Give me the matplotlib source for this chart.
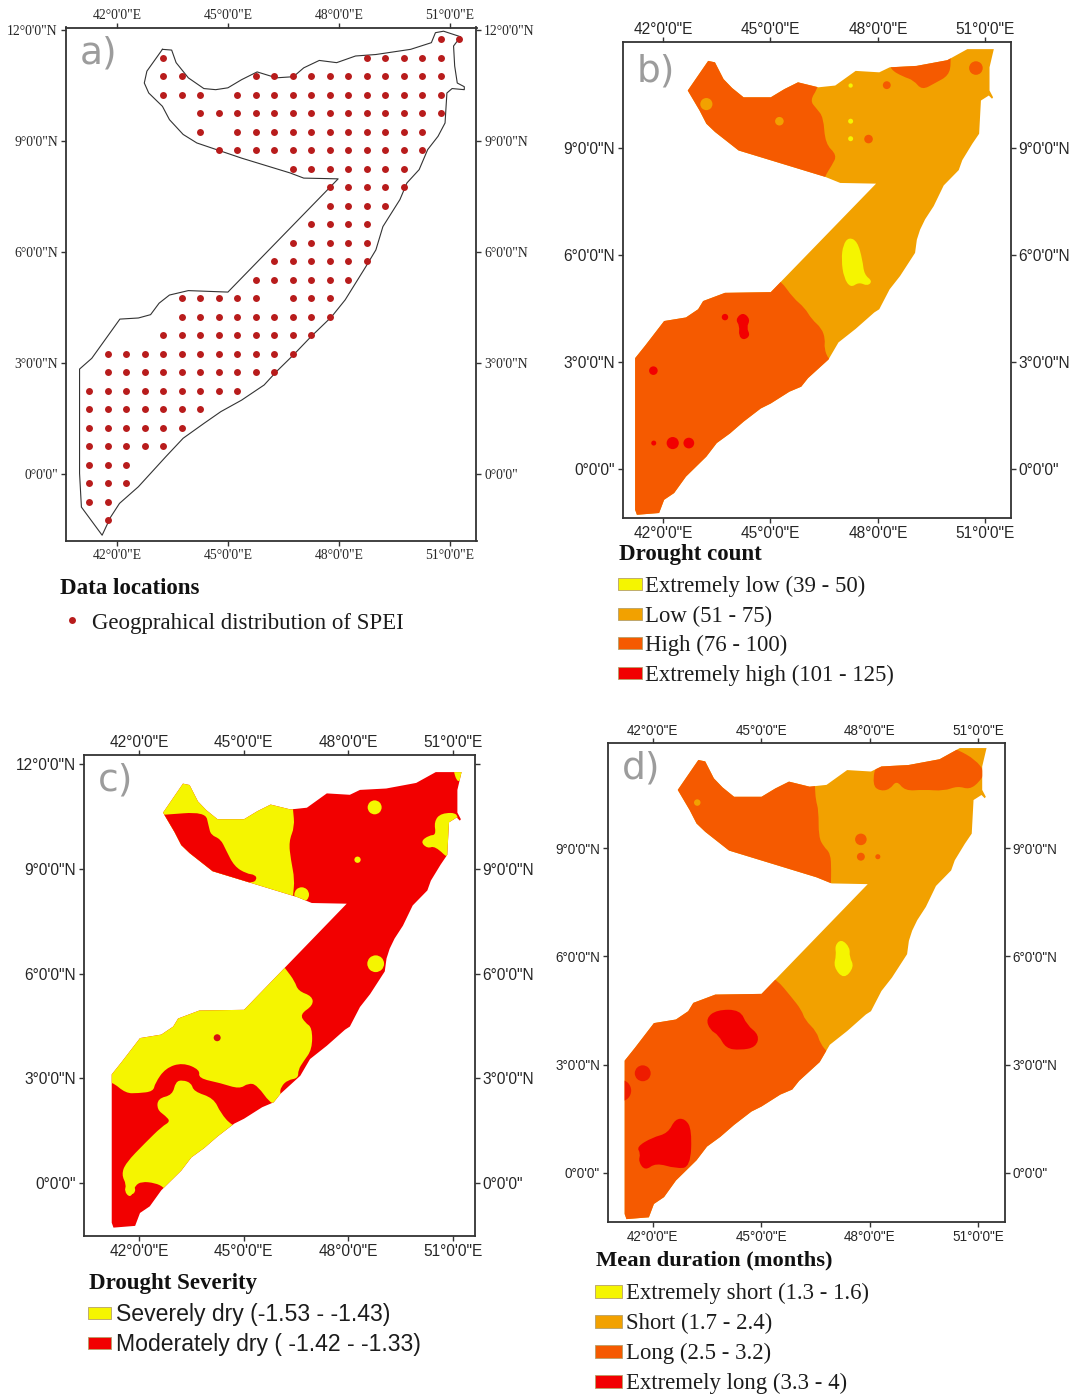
import matplotlib
matplotlib.use("Agg")
import matplotlib.pyplot as plt
from matplotlib.patches import Polygon, PathPatch, Circle, Rectangle
from matplotlib.path import Path
from matplotlib.lines import Line2D
from matplotlib.transforms import ScaledTranslation
import numpy as np

W, H = 1073, 1397
SERIF = "Liberation Serif"
SANS = "Liberation Sans"

YELLOW = "#f5f500"
ORANGE = "#f2a100"
DEEP = "#f55a00"
RED = "#f20000"
DOT = "#b81c1c"

LON_TICKS = [42, 45, 48, 51]
LON_LABELS = ["42°0'0\"E", "45°0'0\"E", "48°0'0\"E", "51°0'0\"E"]
LAT_TICKS = [0, 3, 6, 9, 12]
LAT_LABELS = ["0°0'0\"", "3°0'0\"N", "6°0'0\"N", "9°0'0\"N", "12°0'0\"N"]

# boundary drawn in panel a (lon, lat)
COAST_LON = [43.23, 43.48, 43.60, 43.93, 44.35, 44.67, 45.0, 45.37, 45.79, 46.31, 46.77, 47.05, 47.47,
             47.94, 48.45, 49.0, 49.94, 50.5, 50.61, 50.83, 51.29, 51.1, 51.13, 51.2, 51.39, 51.39,
             51.06, 50.92, 50.87, 50.68, 50.4, 50.17, 49.84, 49.65, 49.19, 49.0, 48.73, 48.17, 47.8,
             47.24, 46.77, 46.31, 45.98, 45.37, 44.81, 44.35, 43.79, 43.32, 42.58, 42.07, 41.83, 41.6,
             41.04, 40.99, 40.99, 41.32, 42.08, 42.58, 42.91, 43.14, 43.42, 43.93, 45.0, 47.98, 47.05,
             46.68, 45.37, 44.16, 43.79, 43.42, 43.23, 42.86, 42.74, 42.81]
COAST_LAT = [11.48, 11.46, 11.12, 10.71, 10.42, 10.39, 10.44, 10.66, 10.87, 10.71, 10.74, 10.98, 11.18,
             11.12, 11.30, 11.34, 11.48, 11.66, 11.93, 11.97, 11.82, 11.57, 11.03, 10.57, 10.47, 10.39,
             10.42, 10.30, 9.49, 9.13, 8.77, 8.23, 7.87, 7.42, 6.69, 6.06, 5.61, 4.71, 4.25,
             3.71, 3.22, 2.77, 2.41, 2.0, 1.69, 1.37, 0.97, 0.47, -0.34, -0.79, -1.16, -1.65,
             -0.89, 0.02, 2.84, 3.13, 4.19, 4.22, 4.31, 4.62, 4.84, 4.96, 4.92, 7.98, 8.0,
             8.14, 8.54, 8.95, 9.18, 9.58, 9.94, 10.30, 10.57, 10.89]

# grid points of panel a, one list of longitudes per latitude row
ROW_LAT = [11.75, 11.25, 10.75, 10.25, 9.75, 9.25, 8.75, 8.25, 7.75, 7.25, 6.75, 6.25, 5.75, 5.25,
           4.75, 4.25, 3.75, 3.25, 2.75, 2.25, 1.75, 1.25, 0.75, 0.25, -0.25, -0.75, -1.25]
ROW_LON = [
    [50.75, 51.25],
    [43.25, 48.75, 49.25, 49.75, 50.25, 50.75],
    [43.25, 43.75, 45.75, 46.25, 46.75, 47.25, 47.75, 48.25, 48.75, 49.25, 49.75, 50.25, 50.75],
    [43.25, 43.75, 44.25, 45.25, 45.75, 46.25, 46.75, 47.25, 47.75, 48.25, 48.75, 49.25, 49.75, 50.25, 50.75],
    [44.25, 44.75, 45.25, 45.75, 46.25, 46.75, 47.25, 47.75, 48.25, 48.75, 49.25, 49.75, 50.25, 50.75],
    [44.25, 45.25, 45.75, 46.25, 46.75, 47.25, 47.75, 48.25, 48.75, 49.25, 49.75, 50.25],
    [44.75, 45.25, 45.75, 46.25, 46.75, 47.25, 47.75, 48.25, 48.75, 49.25, 49.75, 50.25],
    [46.75, 47.25, 47.75, 48.25, 48.75, 49.25, 49.75],
    [47.75, 48.25, 48.75, 49.25, 49.75],
    [47.75, 48.25, 48.75, 49.25],
    [47.25, 47.75, 48.25, 48.75],
    [46.75, 47.25, 47.75, 48.25, 48.75],
    [46.25, 46.75, 47.25, 47.75, 48.25, 48.75],
    [45.75, 46.25, 46.75, 47.25, 47.75, 48.25],
    [43.75, 44.25, 44.75, 45.25, 45.75, 46.75, 47.25, 47.75],
    [43.75, 44.25, 44.75, 45.25, 45.75, 46.25, 46.75, 47.25, 47.75],
    [43.25, 43.75, 44.25, 44.75, 45.25, 45.75, 46.25, 46.75, 47.25],
    [41.75, 42.25, 42.75, 43.25, 43.75, 44.25, 44.75, 45.25, 45.75, 46.25, 46.75],
    [41.75, 42.25, 42.75, 43.25, 43.75, 44.25, 44.75, 45.25, 45.75, 46.25],
    [41.25, 41.75, 42.25, 42.75, 43.25, 43.75, 44.25, 44.75, 45.25],
    [41.25, 41.75, 42.25, 42.75, 43.25, 43.75, 44.25],
    [41.25, 41.75, 42.25, 42.75, 43.25, 43.75],
    [41.25, 41.75, 42.25, 42.75, 43.25],
    [41.25, 41.75, 42.25],
    [41.25, 41.75, 42.25],
    [41.25, 41.75],
    [41.75],
]

# raster extent used by panels b, c, d
LAND = [(43.26, 11.44), (43.45, 11.40), (43.69, 10.93), (43.93, 10.68), (44.25, 10.42), (45.01, 10.42),
        (45.39, 10.65), (45.77, 10.84), (46.34, 10.70), (46.81, 10.75), (47.38, 11.16), (48.04, 11.12),
        (48.33, 11.26), (49.08, 11.30), (49.94, 11.46), (50.50, 11.77), (51.24, 11.77), (51.12, 11.26),
        (51.12, 10.61), (51.22, 10.42), (51.19, 10.38), (51.1, 10.47), (50.88, 10.33), (50.83, 9.40),
        (50.64, 9.12), (50.36, 8.66), (50.26, 8.38), (49.84, 7.95), (49.56, 7.37), (49.32, 7.0),
        (49.18, 6.71), (49.09, 6.43), (49.04, 6.06), (48.62, 5.41), (48.33, 5.04), (48.04, 4.48),
        (47.9, 4.39), (47.38, 3.93), (46.9, 3.55), (46.62, 3.07), (46.05, 2.55), (45.86, 2.31),
        (45.53, 2.17), (45.01, 1.84), (44.73, 1.70), (44.25, 1.33), (43.87, 1.0), (43.5, 0.73),
        (43.21, 0.35), (42.64, -0.21), (42.31, -0.67), (42.03, -0.86), (41.89, -1.23), (41.27, -1.28),
        (41.22, -1.14), (41.22, 3.11), (41.5, 3.46), (42.03, 4.15), (42.64, 4.25), (42.98, 4.48),
        (43.12, 4.71), (43.73, 4.94), (45.01, 4.96), (47.95, 8.0), (46.95, 8.02), (46.53, 8.19),
        (44.11, 8.93), (43.45, 9.45), (43.21, 9.68), (43.02, 10.05), (42.69, 10.61)]

# panel b zones
B_NW = [(46.4, 11.3), (46.34, 10.70), (46.10, 10.33), (46.29, 10.10), (46.48, 9.86), (46.53, 9.12),
        (46.86, 8.80), (46.72, 8.52), (46.51, 8.19), (46.4, 7.8), (42, 7.8), (42, 12), (46.4, 12)]
B_SOUTH = [(45.30, 5.27), (45.63, 4.80), (45.96, 4.52), (46.15, 4.20), (46.43, 3.95), (46.53, 3.64),
           (46.5, 3.39), (46.62, 3.07), (46.9, 2.9), (46, 1), (42, -2), (40.5, -2), (40.5, 5), (44.9, 5.5)]
B_NORTH = [(48.3, 11.5), (48.35, 11.2), (48.7, 11.0), (49.0, 10.9), (49.23, 10.62), (49.6, 10.82),
           (49.98, 11.03), (50.05, 11.4), (50.0, 11.8), (48.8, 11.8)]
B_YELLOW = [(47.19, 6.50), (47.43, 6.38), (47.57, 5.87), (47.62, 5.45), (47.85, 5.27), (47.71, 5.13),
            (47.47, 5.24), (47.24, 5.08), (47.05, 5.36), (46.98, 5.87), (47.03, 6.29)]
B_RED = [(44.23, 4.40), (44.44, 4.20), (44.33, 3.97), (44.44, 3.74), (44.25, 3.61), (44.11, 3.74),
         (44.14, 4.01), (44.02, 4.20)]
B_SPOTS = [(43.21, 10.23, 0.17, ORANGE), (45.25, 9.75, 0.12, ORANGE), (47.24, 10.75, 0.06, YELLOW),
           (47.24, 9.75, 0.07, YELLOW), (47.24, 9.26, 0.07, YELLOW), (48.25, 10.76, 0.11, DEEP),
           (47.74, 9.25, 0.12, DEEP), (50.74, 11.24, 0.19, DEEP), (43.73, 4.26, 0.09, RED),
           (41.73, 2.76, 0.12, RED), (41.74, 0.73, 0.07, RED), (42.27, 0.73, 0.17, RED),
           (42.72, 0.73, 0.15, RED)]

# panel c zones
C_NW_YELLOW = [(42, 12), (46.3, 12), (46.41, 10.69), (46.46, 10.21), (46.29, 9.78), (46.35, 9.26),
               (46.46, 8.69), (46.41, 8.26), (46.4, 7.8), (42, 7.8)]
C_NW_RED = [(42.3, 10.54), (42.66, 10.54), (43.9, 10.64), (44.0, 10.21), (44.06, 9.97), (44.34, 9.85),
            (44.49, 9.54), (44.73, 9.07), (45.08, 8.86), (45.33, 8.83), (45.38, 8.69), (45.23, 8.59),
            (43.95, 8.5), (42.3, 9.3)]
C_NE_CAP = [(50.95, 12), (51.4, 12), (51.15, 11.35)]
C_EAST = [(50.65, 10.6), (51.2, 10.6), (51.0, 10.02), (50.95, 9.2), (50.48, 9.66), (50.26, 9.58),
          (50.06, 9.78), (50.31, 9.96), (50.51, 9.97), (50.45, 10.35)]
C_SOUTH = [(45.9, 6.5), (46.22, 6.11), (46.46, 5.78), (46.56, 5.50), (46.96, 5.35), (46.99, 5.09),
           (46.61, 4.83), (46.76, 4.59), (46.96, 4.45), (46.96, 3.83), (46.71, 3.48), (46.56, 3.24),
           (46.56, 3.0), (46.26, 2.95), (46.07, 2.76), (46.03, 2.55), (46.2, 2.3), (45.82, 2.2),
           (45.38, 2.81), (45.13, 2.86), (44.88, 2.69), (44.34, 2.86), (43.7, 3.0), (43.75, 3.24),
           (43.25, 3.45), (42.76, 3.29), (42.46, 2.86), (42.41, 2.62), (41.97, 2.57), (41.62, 2.57),
           (41.23, 2.90), (40.8, 2.95), (40.8, 5), (45, 5.5)]
C_TONGUE = [(43.25, 2.95), (43.5, 2.86), (43.57, 2.62), (44.14, 2.43), (44.34, 2.0), (44.66, 1.64),
            (45.1, 1.5), (44, 0.3), (42.9, -0.35), (42.71, -0.12), (42.46, 0.0), (42.07, 0.04),
            (41.89, -0.08), (41.85, -0.24), (41.74, -0.42), (41.58, -0.24), (41.64, -0.05), (41.5, 0.24),
            (41.62, 0.57), (42.17, 1.14), (42.66, 1.62), (42.9, 1.76), (42.76, 1.92), (42.52, 2.10),
            (42.54, 2.42), (42.96, 2.52), (43.05, 2.9)]
C_SPOTS = [(48.75, 10.76, 0.2, YELLOW), (48.26, 9.26, 0.09, YELLOW), (46.66, 8.26, 0.21, YELLOW),
           (48.78, 6.28, 0.24, YELLOW), (44.24, 4.16, 0.1, "#d81010"), (41.76, -0.2, 0.13, YELLOW)]

# panel d zones
D_NW = [(46.45, 11.5), (46.49, 10.68), (46.51, 10.33), (46.59, 10.05), (46.59, 9.31), (46.73, 9.04),
        (46.92, 8.85), (46.94, 8.39), (46.93, 8.02), (46.93, 7.8), (42, 7.8), (42, 12), (46.45, 12)]
D_SOUTH = [(45.43, 5.36), (45.83, 4.88), (46.12, 4.51), (46.21, 4.24), (46.54, 3.91), (46.63, 3.59),
           (46.87, 3.3), (47.1, 3.2), (46, 1), (42, -2), (40.5, -2), (40.5, 5), (45, 5.6)]
D_NORTH = [(48.18, 11.4), (49.5, 11.8), (50.1, 11.85), (50.45, 11.72), (50.93, 11.45), (51.2, 11.1),
           (51.05, 10.84), (50.77, 10.62), (50.44, 10.72), (50.06, 10.58), (49.5, 10.62), (48.98, 10.58),
           (48.75, 10.88), (48.56, 10.62), (48.28, 10.58), (48.08, 10.75)]
D_YELLOW = [(47.22, 6.48), (47.46, 6.24), (47.44, 5.99), (47.58, 5.71), (47.29, 5.36), (47.0, 5.71),
            (47.08, 6.04), (47.04, 6.3)]
D_RED_A = [(43.47, 4.28), (43.77, 4.52), (44.42, 4.52), (44.6, 4.10), (44.95, 3.82), (44.85, 3.48),
           (44.42, 3.4), (44.02, 3.45), (43.82, 3.82), (43.58, 3.96)]
D_RED_B = [(41.55, 0.72), (41.98, 0.98), (42.42, 1.1), (42.62, 1.5), (42.9, 1.5), (43.08, 1.19),
           (43.04, 0.16), (42.64, 0.12), (42.08, 0.28), (41.79, 0.06), (41.6, 0.31), (41.66, 0.54)]
D_SPOTS = [(43.23, 10.26, 0.09, ORANGE), (47.76, 9.24, 0.16, DEEP), (47.76, 8.76, 0.11, DEEP),
           (48.23, 8.76, 0.07, DEEP), (41.72, 2.76, 0.22, "#ee1c00"), (41.1, 2.28, 0.3, "#ee1c00")]

COUNT_LABELS = ["Extremely low (39 - 50)", "Low (51 - 75)", "High (76 - 100)", "Extremely high (101 - 125)"]
SEVERITY_LABELS = ["Severely dry (-1.53 - -1.43)", "Moderately dry ( -1.42 - -1.33)"]
DURATION_LABELS = ["Extremely short (1.3 - 1.6)", "Short (1.7 - 2.4)", "Long (2.5 - 3.2)", "Extremely long (3.3 - 4)"]
FOUR_COLORS = [YELLOW, ORANGE, DEEP, RED]
TWO_COLORS = [YELLOW, RED]


def fx(px):
    return px / W


def fy(px):
    return 1 - px / H


def make_axes(fig, box, xlim, ylim, font, size, lat_ticks, tag, tag_y):
    left, right, top, bottom = box
    ax = fig.add_axes([fx(left), fy(bottom), (right - left) / W, (bottom - top) / H])
    ax.set_xlim(*xlim)
    ax.set_ylim(*ylim)
    ax.set_xticks(LON_TICKS)
    ax.set_xticklabels(LON_LABELS, family=font, size=size, color="#262626")
    ax.set_yticks(lat_ticks)
    ax.set_yticklabels(LAT_LABELS[:len(lat_ticks)], family=font, size=size, color="#262626")
    ax.tick_params(top=True, labeltop=True, right=True, labelright=True, length=3.5, width=1,
                   color="#333333", pad=2)
    # top labels sit closer to the frame than the bottom ones
    shift = ScaledTranslation(0, -2.5 / 100, fig.dpi_scale_trans)
    for t in ax.xaxis.get_major_ticks():
        t.label2.set_transform(t.label2.get_transform() + shift)
    for s in ax.spines.values():
        s.set_linewidth(1.3)
        s.set_color("#333333")
    ax.text(0.035, tag_y, tag, transform=ax.transAxes, ha="left", va="top", fontsize=27,
            color="#9c9c9c", family="DejaVu Sans")
    return ax


def blob(points, color):
    # closed quadratic spline, the given points act as control points
    pts = np.array(points + [points[0]])
    mids = (pts[:-1] + pts[1:]) / 2
    verts = [mids[-1]]
    codes = [Path.MOVETO]
    for p, m in zip(pts[:-1], mids):
        verts += [p, m]
        codes += [Path.CURVE3, Path.CURVE3]
    return PathPatch(Path(verts, codes), facecolor=color, edgecolor="none")


def fill_map(ax, base, zones, spots):
    land = ax.add_patch(Polygon(LAND, closed=True, facecolor=base, edgecolor="none"))
    for points, color in zones:
        ax.add_patch(blob(points, color)).set_clip_path(land)
    for lon, lat, r, color in spots:
        ax.add_patch(Circle((lon, lat), r, facecolor=color, edgecolor="none")).set_clip_path(land)


def legend(fig, title, title_x, title_y, title_size, labels, colors, rows, box_x, box_w, box_h, text_x, font, size):
    fig.text(fx(title_x), fy(title_y), title, family=SERIF, weight="bold", size=title_size, va="center", color="#111111")
    for label, color, y in zip(labels, colors, rows):
        fig.add_artist(Rectangle((fx(box_x), fy(y + box_h / 2)), box_w / W, box_h / H, transform=fig.transFigure,
                                 facecolor=color, edgecolor="#b5a06a", linewidth=0.6))
        fig.text(fx(text_x), fy(y + 2), label, family=font, size=size, va="center", color="#1c1c1c")


def main():
    fig = plt.figure(figsize=(W / 100, H / 100), dpi=100)

    # a) data locations
    ax = make_axes(fig, (65.5, 476.5, 27.5, 541.5), (40.61, 51.72), (-1.82, 12.07), SERIF, 9.8, LAT_TICKS, "a)", 0.985)
    ax.plot(COAST_LON + COAST_LON[:1], COAST_LAT + COAST_LAT[:1], color="#333333", lw=0.8)
    for lat, lons in zip(ROW_LAT, ROW_LON):
        ax.plot(lons, [lat] * len(lons), ls="none", marker="o", ms=5, color=DOT, mew=0)
    fig.text(fx(60), fy(589), "Data locations", family=SERIF, weight="bold", size=16.5, va="center", color="#111111")
    fig.add_artist(Line2D([fx(72)], [fy(620)], marker="o", ms=5, color=DOT, mew=0, transform=fig.transFigure))
    fig.text(fx(92), fy(623), "Geogprahical distribution of SPEI", family=SERIF, size=16.5, va="center", color="#1c1c1c")

    # b) drought count
    ax = make_axes(fig, (622.6, 1011, 42, 518), (40.87, 51.72), (-1.37, 11.97), SANS, 11.2, LAT_TICKS[:4], "b)", 0.975)
    fill_map(ax, ORANGE, [(B_NW, DEEP), (B_SOUTH, DEEP), (B_NORTH, DEEP), (B_YELLOW, YELLOW), (B_RED, RED)], B_SPOTS)
    legend(fig, "Drought count", 619, 554.5, 16.5, COUNT_LABELS, FOUR_COLORS, [584, 614, 643, 673], 618, 24, 12, 645, SERIF, 16.4)

    # c) drought severity
    ax = make_axes(fig, (83.8, 474.5, 755, 1236), (40.42, 51.61), (-1.52, 12.26), SANS, 11.2, LAT_TICKS, "c)", 0.985)
    ax.yaxis.get_major_ticks()[-1].label2.set_visible(False)
    fill_map(ax, RED, [(C_NW_YELLOW, YELLOW), (C_NW_RED, RED), (C_NE_CAP, YELLOW), (C_EAST, YELLOW),
                       (C_SOUTH, YELLOW), (C_TONGUE, YELLOW)], C_SPOTS)
    legend(fig, "Drought Severity", 89, 1283.5, 16.5, SEVERITY_LABELS, TWO_COLORS, [1313, 1343], 88, 23, 12, 116, SANS, 16.6)

    # d) mean duration
    ax = make_axes(fig, (607.7, 1004.6, 743, 1222), (40.75, 51.74), (-1.36, 11.91), SANS, 9.75, LAT_TICKS[:4], "d)", 0.985)
    fill_map(ax, ORANGE, [(D_NW, DEEP), (D_SOUTH, DEEP), (D_NORTH, DEEP), (D_YELLOW, YELLOW), (D_RED_A, RED),
                          (D_RED_B, RED)], D_SPOTS)
    legend(fig, "Mean duration (months)", 596, 1260.5, 16.2, DURATION_LABELS, FOUR_COLORS, [1291, 1321, 1351, 1381], 595, 27, 13, 626, SERIF, 16.4)

    fig.savefig("out.png", dpi=100)
    plt.close(fig)


if __name__ == "__main__":
    main()
